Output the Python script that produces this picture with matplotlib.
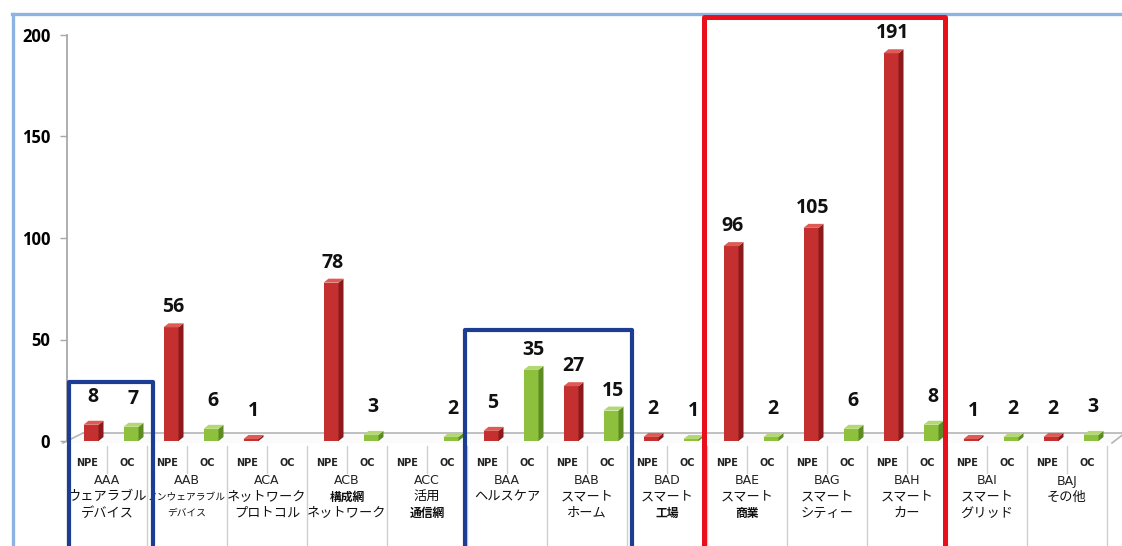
import matplotlib
matplotlib.use('Agg')
import matplotlib.pyplot as plt
import matplotlib.transforms as mtransforms
from matplotlib.patches import Polygon, Rectangle
from matplotlib.lines import Line2D

plt.rcParams['font.family'] = ['Noto Sans CJK JP', 'DejaVu Sans']

# ---- data -------------------------------------------------------------
codes = ['AAA', 'AAB', 'ACA', 'ACB', 'ACC', 'BAA', 'BAB',
         'BAD', 'BAE', 'BAG', 'BAH', 'BAI', 'BAJ']
names = [['ウェアラブル', 'デバイス'], ['ノンウェアラブル', 'デバイス'],
         ['ネットワーク', 'プロトコル'], ['構成網', 'ネットワーク'],
         ['活用', '通信網'], ['ヘルスケア'], ['スマート', 'ホーム'],
         ['スマート', '工場'], ['スマート', '商業'], ['スマート', 'シティー'],
         ['スマート', 'カー'], ['スマート', 'グリッド'], ['その他']]
npe = [8, 56, 1, 78, 0, 5, 27, 2, 96, 105, 191, 1, 2]
oc = [7, 6, 0, 3, 2, 35, 15, 1, 2, 6, 8, 2, 3]
series = ['NPE', 'OC']
yticks = [0, 50, 100, 150, 200]

# ---- figure / axes ----------------------------------------------------
W, H = 1122, 546
fig = plt.figure(figsize=(W / 100, H / 100), dpi=100)
fig.patch.set_facecolor('white')
ax = fig.add_axes([67 / W, 1 - 441 / H, 1040 / W, (441 - 35) / H])
n = len(codes)
ax.set_xlim(0, n)
ax.set_ylim(0, 200)
ax.patch.set_alpha(0)

# pixel -> data unit conversion for the 3D depth effect
px_x = n / 1040.0
px_y = 200 / 406.0


def pt(x, y, dx=0, dy=0):
    """Data point shifted by a pixel offset (dy positive = up)."""
    return (x + dx * px_x, y + dy * px_y)


# floor of the 3D plot
floor = Polygon([pt(0, 0, -4, -2), pt(0, 0, 16, 8), pt(n, 0, 18, 8), pt(n, 0, 5, -2)],
                closed=True, facecolor='#fbfbfb', edgecolor='none', clip_on=False, zorder=0)
ax.add_patch(floor)
for a, b in [((0, 0, -4, -2), (0, 0, 16, 8)), ((0, 0, 16, 8), (n, 0, 18, 8)),
             ((n, 0, 18, 8), (n, 0, 5, -2))]:
    p1, p2 = pt(*a), pt(*b)
    ax.add_line(Line2D([p1[0], p2[0]], [p1[1], p2[1]], color='#b5b5b5', lw=1.2,
                       clip_on=False, zorder=1))

# y axis
for s in ['top', 'right', 'bottom']:
    ax.spines[s].set_visible(False)
ax.spines['left'].set_color('#a8a8a8')
ax.spines['left'].set_linewidth(1.3)
ax.set_xticks([])
ax.set_yticks(yticks)
ax.set_yticklabels([str(t) for t in yticks], fontfamily='Open Sans', fontweight='bold',
                   fontsize=12)
ax.tick_params(axis='y', length=5, color='#a8a8a8', width=1.0, pad=7)

colors = {
    'NPE': ('#c4302f', '#8c1a1c', '#de5a55'),
    'OC': ('#8dc03c', '#5d8c24', '#b3d873'),
}

bar_w = 15 * px_x
depth_dx, depth_dy = 5, 4


def draw_bar(xc, v, key):
    front, side, top = colors[key]
    x0 = xc - bar_w / 2
    x1 = xc + bar_w / 2
    if v > 0:
        ax.add_patch(Rectangle((x0, 0), bar_w, v, facecolor=front, edgecolor='none',
                               clip_on=False, zorder=3))
        ax.add_patch(Polygon([pt(x1, 0), pt(x1, v), pt(x1, v, depth_dx, depth_dy),
                              pt(x1, 0, depth_dx, depth_dy)], closed=True,
                             facecolor=side, edgecolor='none', clip_on=False, zorder=3))
        ax.add_patch(Polygon([pt(x0, v), pt(x1, v), pt(x1, v, depth_dx, depth_dy),
                              pt(x0, v, depth_dx, depth_dy)], closed=True,
                             facecolor=top, edgecolor='none', clip_on=False, zorder=3))
        off = 20 + (8 if v < 10 else 0)
        ax.annotate(str(v), xy=(xc, v), xytext=(2, off), textcoords='offset pixels',
                    ha='center', va='center', fontsize=14, fontweight='bold',
                    fontfamily='Open Sans', color='#111111', zorder=5,
                    annotation_clip=False)


for i in range(n):
    draw_bar(i + 0.25 + 4 * px_x, npe[i], 'NPE')
    draw_bar(i + 0.75 + 4 * px_x, oc[i], 'OC')

# ---- category table under the plot -----------------------------------
bt = mtransforms.blended_transform_factory(ax.transData, fig.transFigure)


def fy(py):
    return 1 - py / H


grid_c = '#cfcfcf'
for i in range(n + 1):
    fig.add_artist(Line2D([i, i], [fy(446), fy(H + 2)], transform=bt, color=grid_c, lw=1.0))
for i in range(n):
    fig.add_artist(Line2D([i + 0.5, i + 0.5], [fy(446), fy(473)], transform=bt,
                          color=grid_c, lw=1.0))
    for j, lab in enumerate(series):
        ax.text(i + 0.25 + 0.5 * j, fy(463), lab, transform=bt, ha='center', va='center',
                fontsize=7, fontweight='bold', fontfamily='DejaVu Sans', color='#222222')
    ax.text(i + 0.5, fy(481), codes[i], transform=bt, ha='center', va='center',
            fontsize=9, fontfamily='DejaVu Sans', color='#222222')

    small = codes[i] == 'AAB'
    for k, line in enumerate(names[i]):
        bold = (codes[i], k) in {('ACB', 0), ('ACC', 1), ('BAE', 1), ('BAD', 1)}
        size = 7 if small else (8.5 if bold else 9.5)
        ax.text(i + 0.5, fy(497 + 16 * k), line, transform=bt, ha='center', va='center',
                fontsize=size, fontweight='bold' if bold else 'normal', color='#111111')

# ---- frame and highlight boxes (pixel coordinates) ---------------------
def px_rect(x0, y0, x1, y1, color, lw):
    fig.add_artist(Rectangle((x0 / W, 1 - y1 / H), (x1 - x0) / W, (y1 - y0) / H,
                             transform=fig.transFigure, fill=False, edgecolor=color,
                             linewidth=lw, joinstyle='round', zorder=10))


fig.add_artist(Line2D([12 / W, 1.0], [fy(14), fy(14)], transform=fig.transFigure,
                      color='#8db3e2', lw=2.4, zorder=9))
fig.add_artist(Line2D([13 / W, 13 / W], [fy(14), 0], transform=fig.transFigure,
                      color='#8db3e2', lw=2.4, zorder=9))

px_rect(69, 382, 153, 560, '#1d3c93', 3.0)
px_rect(465, 330, 632, 560, '#1d3c93', 3.0)
px_rect(704, 17, 945, 560, '#e8111b', 3.6)

fig.savefig('out.png', dpi=100)
